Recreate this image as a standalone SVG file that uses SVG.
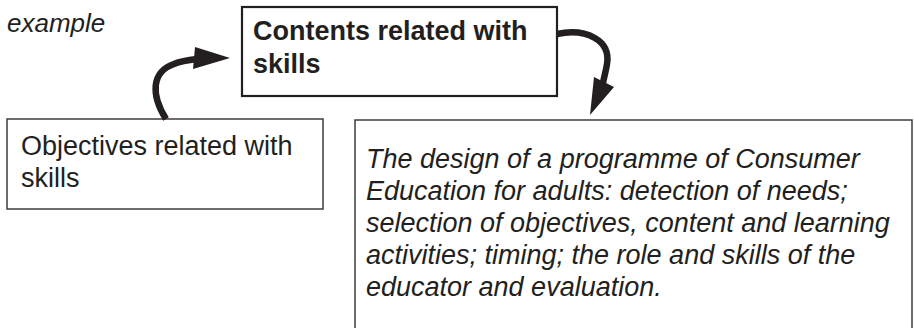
<svg xmlns="http://www.w3.org/2000/svg" width="914" height="328" viewBox="0 0 914 328">
  <defs>
    <style>
      .box { fill: #ffffff; stroke: #3c3c3c; stroke-width: 1.5; }
      .box-main { fill: #ffffff; stroke: #231f20; stroke-width: 2.2; }
      .txt { font-family: "Liberation Sans", Arial, Helvetica, sans-serif; font-size: 27px; fill: #231f20; }
      .it { font-style: italic; }
      .bold { font-weight: bold; }
      .shaft { fill: none; stroke: #231f20; stroke-width: 6.5; stroke-linecap: butt; }
      .head { fill: #231f20; stroke: none; }
    </style>
  </defs>

  <rect width="914" height="328" fill="#ffffff"/>

  <text class="txt it" x="7" y="32" style="font-size:26px">example</text>

  <g id="node-contents">
    <rect class="box-main" x="242" y="7" width="315" height="89"/>
    <text class="txt bold" x="253" y="40">Contents related with</text>
    <text class="txt bold" x="253" y="73">skills</text>
  </g>

  <g id="node-objectives">
    <rect class="box" x="7" y="119" width="316" height="90"/>
    <text class="txt" x="21" y="155">Objectives related with</text>
    <text class="txt" x="21" y="187">skills</text>
  </g>

  <g id="node-design">
    <rect class="box" x="355" y="120" width="557" height="230"/>
    <text class="txt it" x="366" y="168">The design of a programme of Consumer</text>
    <text class="txt it" x="366" y="200">Education for adults: detection of needs;</text>
    <text class="txt it" x="366" y="232">selection of objectives, content and learning</text>
    <text class="txt it" x="366" y="264">activities; timing; the role and skills of the</text>
    <text class="txt it" x="366" y="296">educator and evaluation.</text>
  </g>

  <g id="connectors">
    <!-- objectives -> contents -->
    <path class="shaft" d="M166,119 C151,95 151,72 174,64 C181,61 188,60 197,59"/>
    <polygon class="head" points="195,47 230,58 193,69"/>
    <!-- contents -> design -->
    <path class="shaft" d="M557,34 C586,28 611,40 607,64 C606,71 604,77 603,83"/>
    <polygon class="head" points="594,77 614,87 590,115"/>
  </g>
</svg>
